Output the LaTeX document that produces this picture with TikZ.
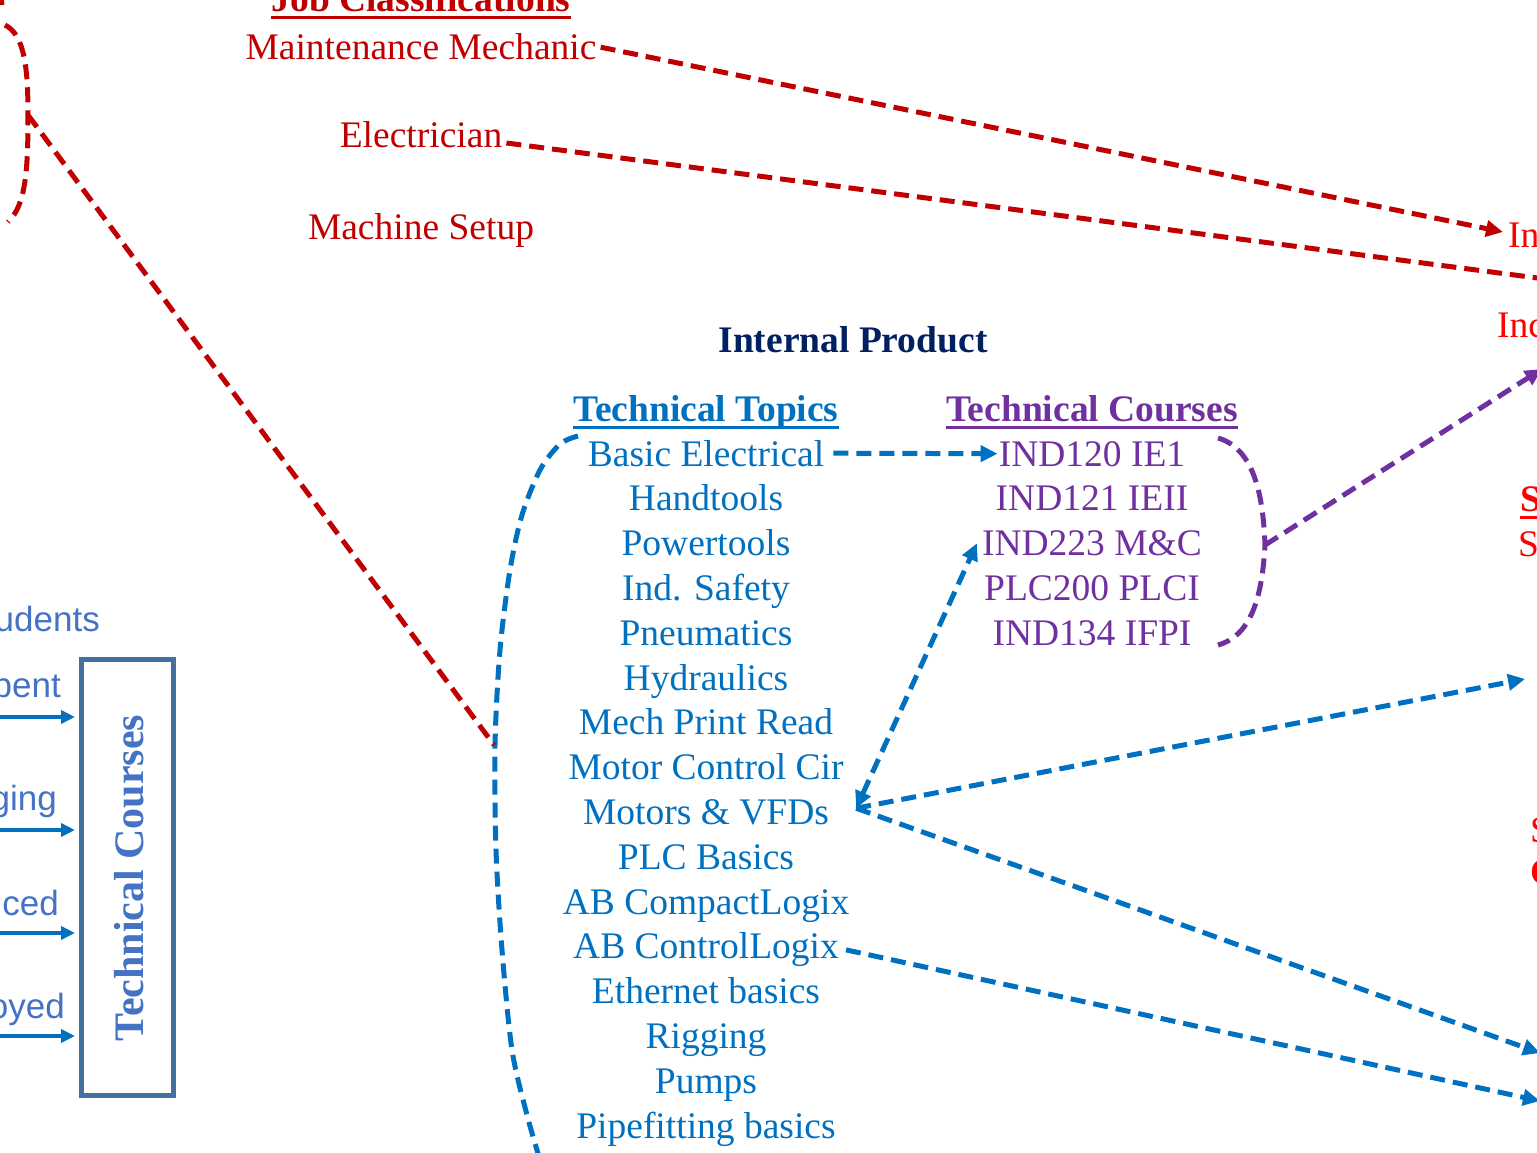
\documentclass[tikz,border=0pt]{standalone}
\usepackage{fontspec}
\setmainfont{Liberation Serif}
\setsansfont{Liberation Sans}
\usetikzlibrary{arrows.meta}
\definecolor{dred}{HTML}{C00000}
\definecolor{bred}{HTML}{FF0000}
\definecolor{tblue}{HTML}{0070C0}
\definecolor{tpurple}{HTML}{7030A0}
\definecolor{tnavy}{HTML}{002060}
\definecolor{sblue}{HTML}{4472C4}
\definecolor{boxc}{HTML}{41719C}
\begin{document}
\begin{tikzpicture}[x=1pt,y=-1pt,
  txt/.style={inner sep=0pt, anchor=base, font=\fontsize{37.5}{45}\selectfont},
  hdr/.style={inner sep=0pt, anchor=base, font=\fontsize{37.5}{45}\selectfont\bfseries},
  sans/.style={inner sep=0pt, anchor=base east, text=sblue, font=\sffamily\fontsize{35}{42}\selectfont},
  dconn/.style={line width=5pt, dash pattern=on 15pt off 8pt},
  rconn/.style={dconn, draw=dred},
  bconn/.style={dconn, draw=tblue},
  pconn/.style={dconn, draw=tpurple},
  tip/.style={-{Triangle[length=17pt,width=16pt]}},
  ul/.style={line width=3pt}
]
\useasboundingbox (0,0) rectangle (1537,1153);
\clip (0,0) rectangle (1537,1153);

% ---- Job classifications (red)
\node[hdr, text=dred] (jc) at (421,12) {Job Classifications};
\draw[ul, dred] ([yshift=-6pt]jc.base west) -- ([yshift=-6pt]jc.base east);
\node[txt, text=dred] (mm) at (421,60) {Maintenance Mechanic};
\node[txt, text=dred] (el) at (421,148) {Electrician};
\node[txt, text=dred] (ms) at (421,239) {Machine Setup};

% ---- right edge fragments
\node[txt, anchor=base west, text=bred] (r1) at (1508,247) {In};
\node[txt, anchor=base west, text=bred] (r2) at (1497,337) {Inc};
\node[hdr, anchor=base west, text=bred] (r3) at (1520,511) {S};
\draw[ul, bred] ([yshift=-6pt]r3.base west) -- ([yshift=-6pt]r3.base east);
\node[txt, anchor=base west, text=bred] (r4) at (1518,556) {S};
\node[txt, anchor=base west, text=bred] (r5) at (1530,842) {S};
\node[hdr, anchor=base west, text=bred] (r6) at (1530,884) {C};

% ---- Internal product
\node[hdr, text=tnavy] (ip) at (853,352) {Internal Product};
\node[hdr, text=tblue] (tt) at (706,421) {Technical Topics};
\draw[ul, tblue] ([yshift=-6pt]tt.base west) -- ([yshift=-6pt]tt.base east);
\node[hdr, text=tpurple] (tcs) at (1092,421) {Technical Courses};
\draw[ul, tpurple] ([yshift=-6pt]tcs.base west) -- ([yshift=-6pt]tcs.base east);

\foreach \lbl [count=\i] in {Basic Electrical, Handtools, Powertools, Ind. Safety, Pneumatics, Hydraulics, Mech Print Read, Motor Control Cir, Motors \& VFDs, PLC Basics, AB CompactLogix, AB ControlLogix, Ethernet basics, Rigging, Pumps, Pipefitting basics}
  \node[txt, text=tblue] (t\i) at (706,{466+44.8*(\i-1)}) {\lbl};

\foreach \lbl [count=\i] in {IND120 IE1, IND121 IEII, IND223 M\&C, PLC200 PLCI, IND134 IFPI}
  \node[txt, text=tpurple] (c\i) at (1092,{466+44.8*(\i-1)}) {\lbl};

% ---- left box and students
\node[sans] (s1) at (100,631) {udents};
\node[sans] (s2) at (61,697) {pent};
\node[sans] (s3) at (57,810) {ging};
\node[sans] (s4) at (59,915) {ced};
\node[sans] (s5) at (65,1018) {oyed};
\node[draw=boxc, line width=5pt, minimum width=92pt, minimum height=436pt, inner sep=0pt] (box) at (127.5,877.5) {};
\node[rotate=90, text=sblue, font=\fontsize{42}{50}\selectfont\bfseries] (boxt) at (129,878) {Technical Courses};
\foreach \yy [count=\i] in {717,830,933,1036} {
  \coordinate (la\i) at (-5,\yy);
  \draw[tblue, line width=3.5pt, -{Triangle[length=14pt,width=13pt]}, shorten >=4pt] (la\i) -- (box.west |- la\i);
}

% ---- braces
\draw[rconn] (1,-4) -- (2,5);
\coordinate (rb) at (28,115);
\draw[rconn] (5,25) .. controls (25,35) and (28,70) .. (rb) .. controls (28,170) and (26,205) .. (8,222);
\coordinate (bb) at (494,745);
\draw[bconn] plot[smooth] coordinates {(578,436) (560,444) (540,470) (522,515) (510,570) (500,650) (495,745) (496,850) (502,950) (512,1050) (527,1115) (540,1160)};
\coordinate (pb) at (1265,545);
\draw[pconn] (1218,438) .. controls (1252,448) and (1263,490) .. (pb) .. controls (1262,600) and (1250,636) .. (1218,645);

% ---- connectors
\coordinate (jr1) at (1503,232);
\coordinate (jr2) at (1545,279);
\draw[rconn, tip] ([xshift=4pt]mm.east) -- (jr1);
\draw[rconn] ([xshift=4pt,yshift=5pt]el.base east) -- (jr2);
\draw[rconn] (rb) -- (bb);

\coordinate (pr) at (1542,369);
\draw[pconn, tip] (pb) -- (pr);

\draw[bconn, tip] ([xshift=9pt]t1.east) -- ([xshift=-1pt]c1.west);
\coordinate (mvx) at ([xshift=27pt,yshift=4pt]t9.east);
\draw[bconn, {Triangle[length=17pt,width=16pt]}-{Triangle[length=17pt,width=16pt]}] (mvx) -- ([xshift=-5pt]c3.west);
\coordinate (br1) at (1525,679);
\coordinate (br2) at (1540,1053);
\coordinate (br3) at (1540,1101);
\draw[bconn, tip] (mvx) -- (br1);
\draw[bconn, tip] (mvx) -- (br2);
\draw[bconn, tip] ([xshift=7pt]t12.east) -- (br3);
\end{tikzpicture}
\end{document}
